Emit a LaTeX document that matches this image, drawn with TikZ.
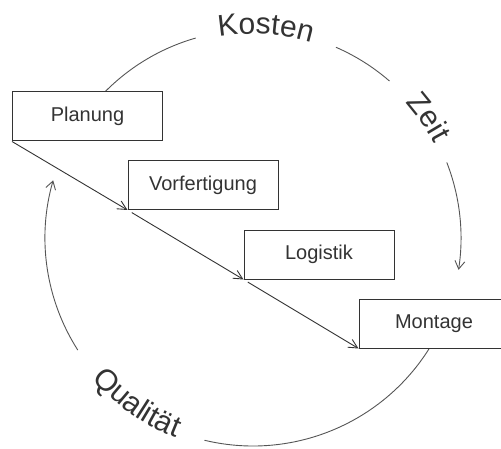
\documentclass[tikz,border=0pt]{standalone}
\usepackage{fontspec}
\setmainfont{Liberation Sans}
\usetikzlibrary{arrows.meta,decorations.text}
\definecolor{ink}{HTML}{333333}
\definecolor{linegray}{HTML}{555555}
\newcommand\curvefont{\fontsize{30}{32}\selectfont}
\begin{document}
\begin{tikzpicture}[x=1pt,y=1pt,
  box/.style={draw=ink, line width=1pt, fill=white, minimum width=150pt,
    minimum height=49pt, inner sep=0pt, font=\fontsize{20}{22}\selectfont, text=ink},
  arcline/.style={draw=linegray, line width=0.9pt},
  barb/.style={-{Straight Barb[length=8pt,width=10pt]}},
  flow/.style={draw=ink, line width=0.9pt, -{Straight Barb[length=9pt,width=9pt]}}]
\useasboundingbox (0,0) rectangle (501,448);
\clip (0,0) rectangle (501,448);
\coordinate (C) at (253,210);
% circle arcs
\draw[arcline] ([shift={(137:208)}]C) arc[start angle=137, end angle=106, radius=208];
\draw[arcline] ([shift={(66.5:208)}]C) arc[start angle=66.5, end angle=49, radius=208];
\draw[arcline, barb] ([shift={(21.3:208)}]C) arc[start angle=21.3, end angle=-8.8, radius=208];
\draw[arcline] ([shift={(-26:208)}]C) arc[start angle=-26, end angle=-103.5, radius=208];
\draw[arcline, barb] ([shift={(212.6:208)}]C) arc[start angle=212.6, end angle=163.9, radius=208];
% curved labels
\path[decorate, decoration={text along path, text={|\curvefont|Kosten}, text align=center, text color=ink}]
  ([shift={(112:204)}]C) arc[start angle=112, end angle=61, radius=204];
\path[decorate, decoration={text along path, text={|\curvefont|Zeit}, text align=center, text color=ink}]
  ([shift={(60:204)}]C) arc[start angle=60, end angle=9, radius=204];
\path[decorate, decoration={text along path, text={|\curvefont|Qualität}, text align=center, text color=ink}]
  ([shift={(205:214)}]C) arc[start angle=205, end angle=265, radius=214];
% boxes
\node[box] (plan) at (87.5,331.5) {Planung};
\node[box] (vor) at (203,263) {Vorfertigung};
\node[box] (log) at (319,193.5) {Logistik};
\node[box] (mon) at (434,124.5) {Montage};
% flow arrows
\draw[flow] (plan.south west) -- (vor.south west);
\draw[flow, shorten <=5pt] (vor.south west) -- (log.south west);
\draw[flow, shorten <=5pt] (log.south west) -- (mon.south west);
\end{tikzpicture}
\end{document}
